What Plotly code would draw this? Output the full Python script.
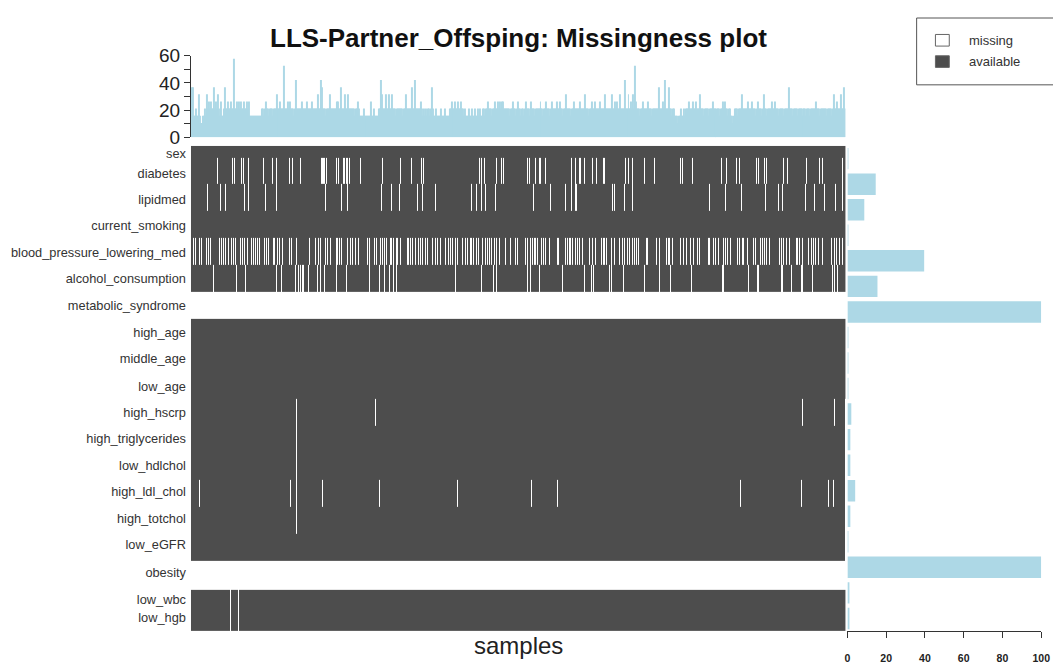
import plotly.graph_objects as go

W, H = 1061, 671
OFFSET = 8  # the page body margin shifts the figure by 8px right and down
FONT = "Liberation Sans, Arial, sans-serif"
AVAILABLE = "#4d4d4d"
BAR = "#add8e6"

variables = [
    "sex", "diabetes", "lipidmed", "current_smoking", "blood_pressure_lowering_med",
    "alcohol_consumption", "metabolic_syndrome", "high_age", "middle_age", "low_age",
    "high_hscrp", "high_triglycerides", "low_hdlchol", "high_ldl_chol", "high_totchol",
    "low_eGFR", "obesity", "low_wbc", "low_hgb",
]
n_samples = 662

# % missing per variable (right-hand bars)
pct_missing = [0.5, 14.6, 8.7, 0.5, 39.6, 15.5, 100, 0.5, 0.5, 0.5,
               2.0, 1.5, 1.5, 4.0, 1.5, 0.5, 100, 1.0, 1.0]

# sample positions that are missing, per variable
miss_diabetes = [26, 41, 43, 51, 53, 58, 73, 82, 86, 99, 102, 110, 131, 132, 134, 135, 137,
                 147, 149, 154, 155, 157, 158, 160, 171, 193, 211, 223, 233, 235, 291, 293,
                 296, 308, 314, 316, 340, 342, 348, 352, 353, 358, 384, 388, 392, 393, 397,
                 406, 410, 417, 418, 439, 442, 446, 458, 468, 495, 497, 507, 536, 541, 551,
                 554, 571, 573, 580, 582, 599, 603, 622, 635, 638, 658]
miss_lipidmed = [16, 29, 34, 54, 58, 75, 86, 136, 152, 158, 192, 202, 210, 229, 234, 247,
                 283, 288, 293, 297, 307, 346, 363, 378, 384, 388, 389, 398, 426, 428, 438,
                 446, 524, 540, 556, 581, 594, 598, 621, 630, 640, 651, 658]
miss_bp = [2, 4, 8, 10, 15, 17, 19, 28, 30, 32, 34, 37, 40, 42, 45, 50, 52, 54, 57, 61, 63,
           65, 67, 69, 74, 76, 78, 83, 84, 87, 89, 92, 99, 101, 106, 119, 125, 128, 130, 133,
           136, 138, 141, 147, 148, 150, 152, 158, 161, 163, 166, 169, 178, 180, 185, 187,
           191, 193, 195, 197, 201, 202, 204, 207, 208, 211, 218, 219, 222, 224, 227, 230,
           232, 234, 237, 239, 244, 247, 249, 252, 257, 260, 262, 264, 267, 269, 274, 277,
           279, 282, 283, 285, 288, 290, 294, 297, 299, 301, 303, 306, 308, 312, 318, 323,
           328, 330, 338, 340, 343, 345, 347, 348, 350, 354, 356, 358, 362, 370, 371, 378,
           380, 382, 383, 385, 388, 390, 392, 395, 398, 403, 406, 409, 415, 417, 418, 420,
           425, 428, 433, 436, 438, 441, 443, 446, 448, 450, 452, 460, 461, 470, 473, 480,
           482, 483, 487, 495, 498, 501, 505, 508, 512, 514, 523, 524, 528, 530, 533, 538,
           540, 542, 545, 552, 554, 557, 558, 562, 568, 570, 576, 578, 580, 582, 585, 595,
           597, 599, 602, 605, 612, 613, 615, 618, 624, 627, 629, 631, 634, 638, 647, 650,
           652, 655, 658]
miss_alcohol = [22, 46, 55, 86, 91, 105, 108, 110, 112, 113, 118, 127, 130, 133, 135, 147,
                157, 180, 190, 195, 200, 204, 207, 267, 293, 305, 308, 340, 343, 352, 375,
                397, 405, 407, 423, 425, 437, 458, 473, 484, 506, 537, 538, 563, 572, 573,
                597, 598, 607, 617, 618, 628, 648, 650, 653]
miss_hscrp = [106, 186, 309, 618, 650, 661]
miss_trig = [106, 661]
miss_hdl = [106, 661]
miss_ldl = [8, 100, 106, 132, 190, 269, 344, 370, 555, 617, 644, 649, 661]
miss_totchol = [106, 661]
miss_egfr = [661]
miss_wbc = [39, 48]
miss_hgb = [39, 48]
all_missing = ["metabolic_syndrome", "obesity"]

# number of missing variables (of 19) per sample, one hex digit per sample
top_counts = (
    "4773343363" "2233436454" "5447454643" "5334744544" "544b445454" "5445445453"
    "3333333333" "3443454434" "4434446444" "5444a44454" "5444348444" "4454444544"
    "4454444464" "4874443444" "6444444554" "4744464464" "4444434454" "3333433333"
    "3353343333" "4486444644" "6446444344" "4444344644" "4447448444" "4454343434"
    "4347433433" "3343334333" "3445444544" "5445443433" "3433433433" "4343344344"
    "5444344544" "5454554444" "4434454434" "5443443454" "4435444344" "4445443445"
    "4443454444" "5445443446" "4444344544" "4445444464" "4434454454" "4445444464"
    "4444464454" "5446444484" "446445464a" "5444344544" "4454443444" "4447444548"
    "4447443443" "3323343343" "4445444544" "5444644434" "4443444544" "4344434454"
    "5443443323" "4443444644" "4445444544" "4345444346" "4434444544" "5444344443"
    "4444744434" "4443444434" "4434443444" "4454443444" "4443444434" "6445444644"
    "74"
)
assert len(top_counts) == n_samples

missing = {
    "diabetes": miss_diabetes, "lipidmed": miss_lipidmed,
    "blood_pressure_lowering_med": miss_bp, "alcohol_consumption": miss_alcohol,
    "high_hscrp": miss_hscrp, "high_triglycerides": miss_trig, "low_hdlchol": miss_hdl,
    "high_ldl_chol": miss_ldl, "high_totchol": miss_totchol, "low_eGFR": miss_egfr,
    "low_wbc": miss_wbc, "low_hgb": miss_hgb,
}

# 1 = available, 0 = missing
z = []
for v in variables:
    if v in all_missing:
        z.append([0] * n_samples)
        continue
    row = [1] * n_samples
    for s in missing.get(v, []):
        row[s] = 0
    z.append(row)

top_pct = [int(c, 16) / 19 * 100 for c in top_counts]
samples = list(range(n_samples))

# row geometry of the heatmap, in screen pixels (rows are not equal in the original)
row_heights = [12] + [27.73] * 15 + [30, 21.5, 21.5]
row_edges = [140.0]
for h in row_heights:
    row_edges.append(row_edges[-1] + h)
label_pos = [148, 169, 195, 222, 250, 277, 305, 333, 360, 388,
             415, 442, 470, 497, 525, 552, 580, 608, 627]


def px(x):
    return (x - OFFSET) / W


def py(y):
    return 1 - (y - OFFSET) / H


fig = go.Figure()

fig.add_trace(go.Heatmap(
    z=z, x=samples, y=row_edges,
    colorscale=[[0, "#ffffff"], [1, AVAILABLE]],
    zmin=0, zmax=1, showscale=False, hoverinfo="skip",
    xaxis="x", yaxis="y",
))

fig.add_trace(go.Bar(
    x=samples, y=top_pct, width=1,
    marker=dict(color=BAR, line=dict(width=0)),
    xaxis="x2", yaxis="y2", hoverinfo="skip",
))

fig.add_trace(go.Bar(
    x=pct_missing, y=variables, orientation="h", width=0.84,
    marker=dict(color=BAR, line=dict(width=0)),
    xaxis="x3", yaxis="y3", hoverinfo="skip",
))

fig.update_layout(
    width=W, height=H,
    margin=dict(l=0, r=0, t=0, b=0),
    paper_bgcolor="white", plot_bgcolor="white",
    showlegend=False,
    font=dict(family=FONT, color="#222222"),
    xaxis=dict(domain=[px(190), px(852)], range=[-0.5, n_samples - 0.5],
               visible=False, anchor="y"),
    yaxis=dict(domain=[py(641), py(140)], range=[641, 140], anchor="x",
               tickvals=label_pos, ticktext=variables, ticks="",
               showgrid=False, zeroline=False, showline=False,
               tickfont=dict(size=12.8, color="#333333"), ticklabelstandoff=4),
    xaxis2=dict(domain=[px(190), px(852)], range=[-0.5, n_samples - 0.5],
                visible=False, anchor="y2"),
    yaxis2=dict(domain=[py(131), py(47)], range=[0, 60], anchor="x2",
                tickvals=[0, 10, 20, 30, 40, 50, 60],
                ticktext=["0", "", "20", "", "40", "", "60"],
                ticks="outside", ticklen=6, tickcolor="#333333",
                showline=True, linecolor="#333333", linewidth=1,
                showgrid=False, zeroline=False,
                tickfont=dict(size=19, color="#222222")),
    xaxis3=dict(domain=[px(854), px(1050)], range=[0, 100], anchor="y3",
                tickvals=[0, 20, 40, 60, 80, 100],
                ticktext=["<b>%d</b>" % t for t in [0, 20, 40, 60, 80, 100]],
                ticks="outside", ticklen=6, tickcolor="#333333",
                showline=True, linecolor="#333333", linewidth=1,
                showgrid=False, zeroline=False, ticklabelstandoff=11,
                tickfont=dict(size=10.5, color="#222222")),
    yaxis3=dict(domain=[py(641), py(140)], anchor="x3",
                categoryorder="array", categoryarray=variables,
                range=[len(variables) - 0.5, -0.5], visible=False),
)

# title and axis caption
fig.add_annotation(x=px(521), y=py(29), xref="paper", yref="paper",
                   xanchor="center", yanchor="middle",
                   text="<b>LLS-Partner_Offsping: Missingness plot</b>",
                   showarrow=False, font=dict(size=26, color="#111111"))
fig.add_annotation(x=px(521), y=py(656), xref="paper", yref="paper",
                   xanchor="center", yanchor="middle",
                   text="samples", showarrow=False,
                   font=dict(size=24, color="#222222"))

# legend box (runs off the right edge, as in the original)
fig.add_shape(type="rect", xref="paper", yref="paper",
              x0=px(924), x1=px(1066), y0=py(77), y1=py(8),
              line=dict(color="#555555", width=1), fillcolor="white")
fig.add_shape(type="rect", xref="paper", yref="paper",
              x0=px(943), x1=px(957), y0=py(37), y1=py(25),
              line=dict(color="#666666", width=1), fillcolor="white")
fig.add_shape(type="rect", xref="paper", yref="paper",
              x0=px(943), x1=px(957), y0=py(59), y1=py(47),
              line=dict(color="#666666", width=1), fillcolor=AVAILABLE)
for label, y in [("missing", 31), ("available", 53)]:
    fig.add_annotation(x=px(975), y=py(y), xref="paper", yref="paper",
                       text=label, showarrow=False,
                       xanchor="left", yanchor="middle",
                       font=dict(size=13, color="#333333"))

fig.write_html("out.html")
